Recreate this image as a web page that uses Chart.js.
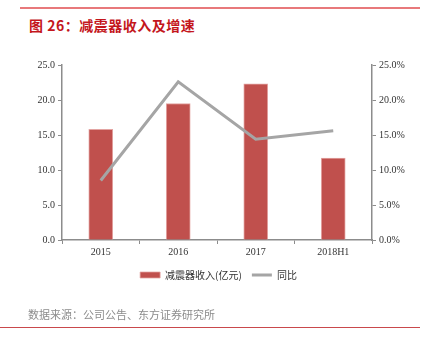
<!DOCTYPE html>
<html>
<head>
<meta charset="utf-8">
<script src="https://cdn.jsdelivr.net/npm/chart.js@4"></script>
<style>
  body { margin: 0; background: #fff; }
  .wrap { position: relative; width: 431px; height: 341px; overflow: hidden; }
  .topLine { position: absolute; left: 20px; top: 7px; width: 400px; height: 2px; background: #e8797b; }
  .title { position: absolute; left: 29px; top: 15px; font: bold 14px "Noto Sans CJK SC", sans-serif; color: #c4161c; letter-spacing: 0.5px; }
  .source { position: absolute; left: 28px; top: 306px; font: 11px "Noto Sans CJK SC", sans-serif; color: #8c8c8c; }
  .bottomLine { position: absolute; left: 0; top: 327px; width: 420px; height: 1px; background: #c9494c; }
  canvas { position: absolute; left: 0; top: 0; }
</style>
</head>
<body>
<div class="wrap">
  <div class="topLine"></div>
  <div class="title">图 26：减震器收入及增速</div>
  <canvas id="chart" width="431" height="341"></canvas>
  <div class="source">数据来源：公司公告、东方证券研究所</div>
  <div class="bottomLine"></div>
</div>
<script>
const years = ["2015", "2016", "2017", "2018H1"];
const revenue = [15.8, 19.5, 22.3, 11.7];      // 亿元
const growth = [8.5, 22.6, 14.4, 15.6];        // %
const leftTicks = [0, 5, 10, 15, 20, 25];

const axisColor = "#8c8c8c";
const tickFont = { family: "'Liberation Serif', 'DejaVu Serif', serif", size: 10 };

new Chart(document.getElementById("chart"), {
  data: {
    labels: years,
    datasets: [
      {
        type: "line",
        label: "同比",
        data: growth,
        yAxisID: "yRight",
        borderColor: "#a5a5a5",
        backgroundColor: "#a5a5a5",
        borderWidth: 3,
        pointRadius: 0,
        tension: 0,
        pointStyle: "line",
        order: 0,
      },
      {
        type: "bar",
        label: "减震器收入(亿元)",
        data: revenue,
        yAxisID: "yLeft",
        backgroundColor: "#c0504d",
        borderColor: "#e3a4a2",
        borderWidth: { top: 1, left: 1, right: 1, bottom: 0 },
        barThickness: 24,
        pointStyle: "rect",
        order: 1,
      },
    ],
  },
  options: {
    responsive: false,
    animation: false,
    layout: { padding: { top: 65, left: 6, right: 0, bottom: 51 } },
    plugins: {
      tooltip: { enabled: false },
      legend: {
        position: "bottom",
        reverse: true,
        labels: {
          usePointStyle: true,
          pointStyleWidth: 20,
          boxHeight: 6,
          padding: 10,
          color: "#333",
          font: { family: "'Noto Sans CJK SC', sans-serif", size: 10 },
        },
      },
    },
    scales: {
      x: {
        grid: { display: true, drawOnChartArea: false, offset: true, tickLength: 4, color: axisColor },
        border: { color: axisColor, width: 1.5 },
        ticks: { color: "#333", font: tickFont, padding: 2 },
        afterFit: (s) => { s.height = 20; },
      },
      yLeft: {
        position: "left",
        min: 0,
        max: 25,
        afterBuildTicks: (s) => { s.ticks = leftTicks.map((v) => ({ value: v })); },
        grid: { drawOnChartArea: false, tickLength: 4, color: axisColor },
        border: { color: axisColor, width: 1.5 },
        ticks: { color: "#333", font: tickFont, padding: 3, callback: (v) => v.toFixed(1) },
        afterFit: (s) => { s.width = 56; },
      },
      yRight: {
        position: "right",
        min: 0,
        max: 25,
        afterBuildTicks: (s) => { s.ticks = leftTicks.map((v) => ({ value: v })); },
        grid: { drawOnChartArea: false, tickLength: 4, color: axisColor },
        border: { color: axisColor, width: 1.5 },
        ticks: { color: "#333", font: tickFont, padding: 3, callback: (v) => v.toFixed(1) + "%" },
        afterFit: (s) => { s.width = 59; },
      },
    },
  },
});
</script>
</body>
</html>
